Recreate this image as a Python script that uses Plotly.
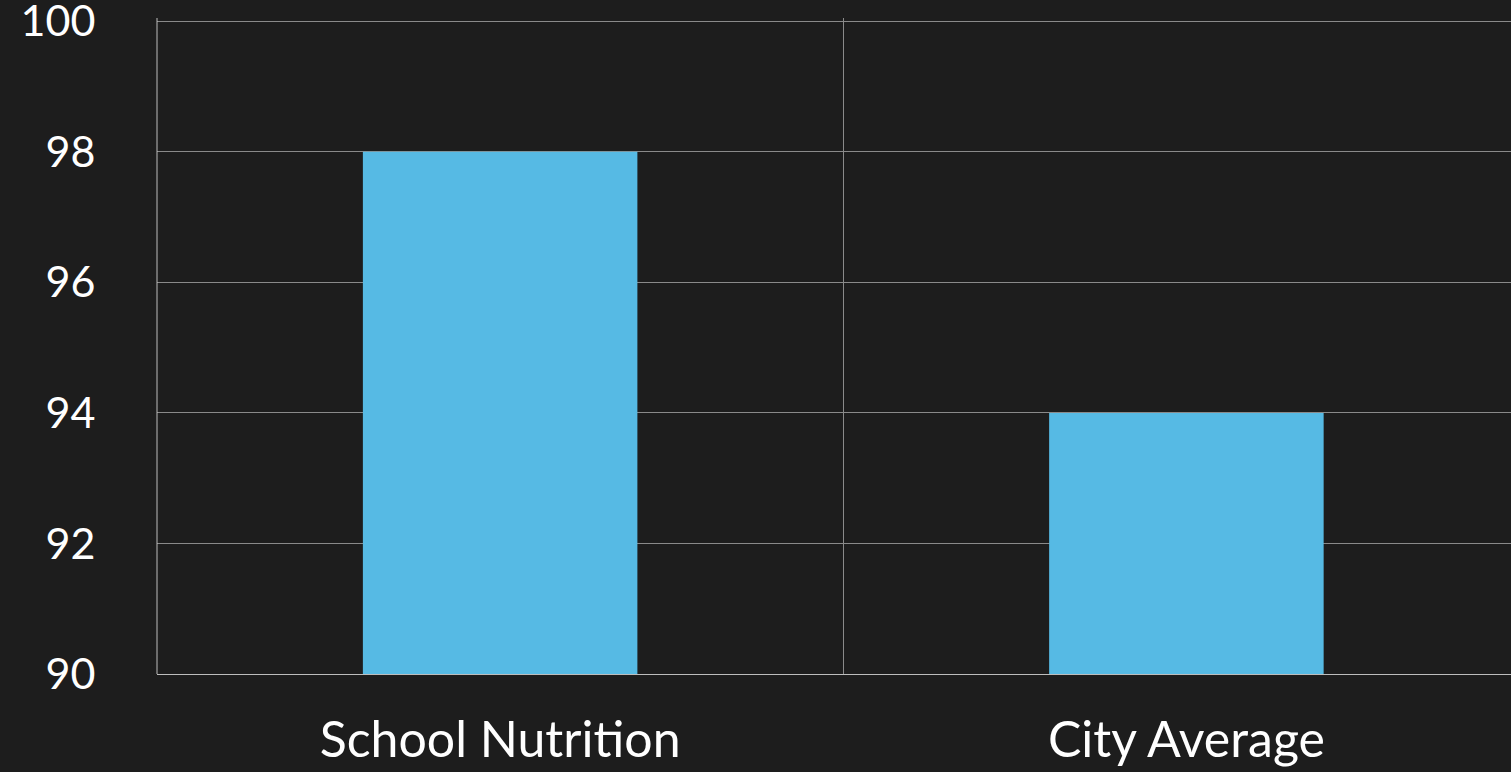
import plotly.graph_objects as go

categories = ["School Nutrition", "City Average"]
values = [98, 94]
y_ticks = [90, 92, 94, 96, 98, 100]

fig = go.Figure(go.Bar(x=categories, y=values, width=0.4, marker=dict(color="#56BAE4", line=dict(width=0))))

fig.update_layout(
    width=1511, height=772,
    margin=dict(l=157, r=0, t=18, b=98),
    paper_bgcolor="#1d1d1d", plot_bgcolor="#1d1d1d",
    font=dict(family="Lato, Open Sans, sans-serif", color="white"),
    showlegend=False,
)
fig.update_xaxes(
    type="category", range=[-0.5, 1.473], tickson="boundaries",
    showgrid=True, gridcolor="#8a8a8a", gridwidth=1,
    ticks="", tickfont=dict(size=50), ticklabelstandoff=22,
    showline=True, linecolor="#bdbdbd", linewidth=1,
    fixedrange=True,
)
fig.update_yaxes(
    range=[90, 100.05], tickmode="array", tickvals=y_ticks, ticktext=[str(v) for v in y_ticks],
    showgrid=True, gridcolor="#8a8a8a", gridwidth=1,
    ticks="outside", ticklen=52, tickcolor="rgba(0,0,0,0)", tickfont=dict(size=43),
    ticklabeloverflow="allow",
    zeroline=False, showline=False, fixedrange=True, automargin=False,
)
fig.add_shape(type="line", xref="paper", yref="paper", x0=0, x1=0, y0=0, y1=1,
              line=dict(color="#bdbdbd", width=1))

fig.write_html(
    "out.html",
    config={"displayModeBar": False},
    post_script="document.body.style.margin='0';document.body.style.background='#1d1d1d';",
)
